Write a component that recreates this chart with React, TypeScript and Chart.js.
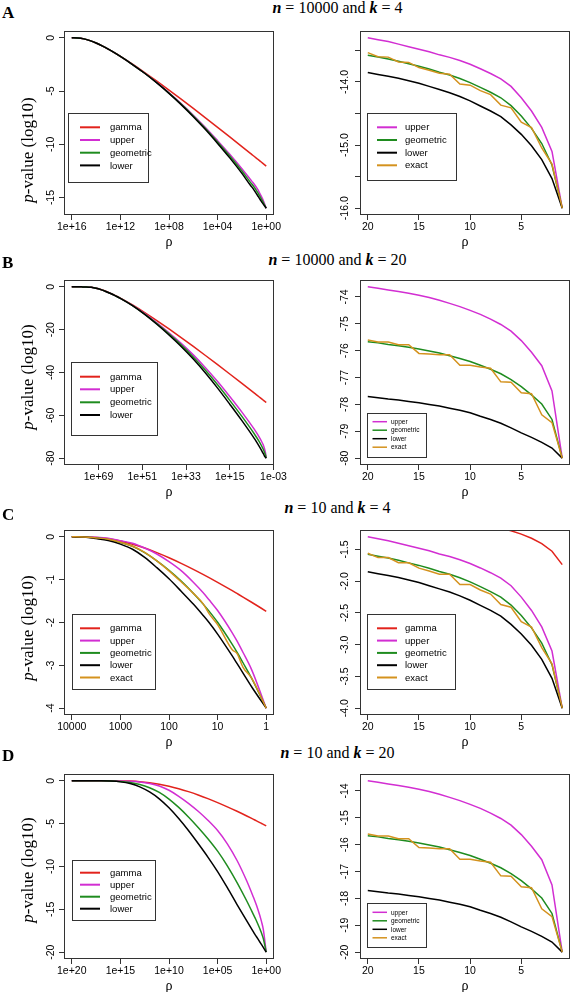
import React, { useEffect, useRef } from "react";
import { Chart, registerables } from "chart.js";

Chart.register(...registerables);

// ---------------- colours ----------------
const C_GAMMA = "#e2231c";
const C_UPPER = "#d22ed2";
const C_GEOM = "#1f8c1f";
const C_LOWER = "#000000";
const C_EXACT = "#d4921e";

// ---------------- shared rho axis (right panels) ----------------
const RHO = [20, 19, 18, 17, 16, 15, 14, 13, 12, 11, 10, 9, 8, 7, 6, 5, 4, 3, 2, 1];

// ---------------- A: n = 10000, k = 4 ----------------
const A_LOGRHO = [16, 15.5, 15, 14.5, 14, 13.5, 13, 12.5, 12, 11, 10, 9, 8, 7, 6, 5, 4, 3, 2, 1.301, 1.176, 1, 0.699, 0.602, 0.477, 0.301, 0];
const A_GAMMA = [0, -0.013, -0.098, -0.262, -0.488, -0.759, -1.062, -1.39, -1.738, -2.477, -3.26, -4.073, -4.91, -5.765, -6.634, -7.515, -8.406, -9.306, -10.212, -10.85, -10.965, -11.125, -11.401, -11.49, -11.605, -11.767, -12.043];
const A_UPPER = [0, -0.013, -0.098, -0.262, -0.488, -0.759, -1.062, -1.395, -1.748, -2.507, -3.33, -4.208, -5.16, -6.175, -7.264, -8.415, -9.656, -10.936, -12.292, -13.3, -13.48, -13.73, -14.24, -14.44, -14.72, -15.12, -16];
const A_GEOM = [0, -0.013, -0.098, -0.262, -0.488, -0.759, -1.062, -1.395, -1.748, -2.507, -3.33, -4.223, -5.19, -6.225, -7.334, -8.515, -9.786, -11.106, -12.512, -13.575, -13.75, -14.015, -14.535, -14.725, -14.975, -15.325, -16];
const A_LOWER = [0, -0.013, -0.098, -0.262, -0.488, -0.759, -1.062, -1.395, -1.748, -2.507, -3.33, -4.238, -5.22, -6.275, -7.404, -8.615, -9.916, -11.276, -12.732, -13.85, -14.02, -14.3, -14.83, -15.01, -15.23, -15.53, -16];

const AR_UPPER = [-13.3, -13.33, -13.36, -13.4, -13.44, -13.48, -13.52, -13.57, -13.61, -13.66, -13.72, -13.79, -13.865, -13.95, -14.07, -14.25, -14.46, -14.72, -15.1, -16];
const AR_GEOM = [-13.575, -13.605, -13.635, -13.67, -13.71, -13.75, -13.795, -13.845, -13.89, -13.945, -14.01, -14.085, -14.163, -14.25, -14.375, -14.54, -14.735, -14.975, -15.315, -16];
const AR_LOWER = [-13.85, -13.88, -13.91, -13.94, -13.98, -14.02, -14.07, -14.12, -14.17, -14.23, -14.3, -14.38, -14.46, -14.55, -14.68, -14.83, -15.01, -15.23, -15.53, -16];
const AR_EXACT = [-13.535, -13.599, -13.606, -13.682, -13.69, -13.772, -13.815, -13.863, -13.876, -14.032, -14.051, -14.137, -14.201, -14.367, -14.409, -14.638, -14.721, -15.046, -15.301, -16];

// ---------------- B: n = 10000, k = 20 ----------------
const B_LOGRHO = [80, 78, 76, 74, 72, 70, 68, 66, 64, 62, 60, 55, 50, 45, 40, 35, 30, 25, 20, 15, 10, 5, 4, 3, 2, 1.301, 1.176, 1, 0.699, 0.602, 0.477, 0.301, 0];
const B_GAMMA = [0, 0, 0, -0.03, -0.212, -0.627, -1.261, -2.076, -3.031, -4.101, -5.263, -8.472, -12.0, -15.75, -19.664, -23.703, -27.845, -32.067, -36.353, -40.7, -45.092, -49.526, -50.42, -51.31, -52.21, -52.83, -52.95, -53.1, -53.37, -53.46, -53.57, -53.73, -54.0];
const B_UPPER = [0, 0, -0.01, -0.05, -0.24, -0.66, -1.31, -2.15, -3.12, -4.2, -5.35, -8.67, -12.55, -16.85, -21.46, -26.38, -31.77, -37.75, -44.2, -51.2, -58.5, -66.35, -68.08, -69.93, -71.98, -73.63, -73.94, -74.5, -75.63, -76.06, -76.56, -77.5, -80];
const B_GEOM = [0, 0, -0.01, -0.05, -0.24, -0.66, -1.31, -2.15, -3.12, -4.2, -5.35, -8.72, -12.7, -17.15, -21.96, -27.1, -32.75, -39.0, -45.75, -53.0, -60.5, -68.5, -70.25, -72.1, -74.1, -75.67, -75.94, -76.41, -77.34, -77.64, -77.99, -78.56, -80];
const B_LOWER = [0, 0, -0.01, -0.05, -0.24, -0.66, -1.31, -2.15, -3.12, -4.2, -5.35, -8.77, -12.85, -17.45, -22.46, -27.82, -33.73, -40.25, -47.3, -54.8, -62.5, -70.65, -72.42, -74.27, -76.22, -77.71, -77.94, -78.31, -79.06, -79.23, -79.41, -79.63, -80];

const BR_UPPER = [-73.625, -73.675, -73.74, -73.8, -73.86, -73.94, -74.025, -74.125, -74.24, -74.36, -74.5, -74.65, -74.825, -75.025, -75.275, -75.625, -76.06, -76.56, -77.5, -80];
const BR_GEOM = [-75.67, -75.71, -75.77, -75.82, -75.875, -75.94, -76.01, -76.09, -76.19, -76.29, -76.405, -76.545, -76.69, -76.86, -77.075, -77.34, -77.645, -77.985, -78.56, -80];
const BR_LOWER = [-77.71, -77.75, -77.8, -77.84, -77.89, -77.94, -78.0, -78.06, -78.14, -78.22, -78.31, -78.44, -78.56, -78.7, -78.875, -79.06, -79.225, -79.41, -79.625, -80];
const BR_EXACT = [-75.599, -75.678, -75.679, -75.776, -75.776, -76.103, -76.126, -76.15, -76.151, -76.543, -76.547, -76.612, -76.652, -77.161, -77.173, -77.567, -77.6, -78.387, -78.678, -80];

// ---------------- C: n = 10, k = 4 ----------------
const C_LOGRHO = [4, 3.75, 3.5, 3.25, 3, 2.75, 2.5, 2.25, 2, 1.75, 1.5, 1.301, 1.176, 1, 0.699, 0.602, 0.477, 0.301, 0];
const C_GAMMA_L = [0, -0.001, -0.013, -0.045, -0.098, -0.171, -0.262, -0.369, -0.488, -0.619, -0.759, -0.876, -0.952, -1.062, -1.257, -1.322, -1.406, -1.527, -1.738];
const C_UPPER_L = [0, 0, -0.01, -0.035, -0.09, -0.15, -0.26, -0.4, -0.58, -0.79, -1.06, -1.3, -1.47, -1.72, -2.24, -2.43, -2.7, -3.1, -4];
const C_GEOM_L = [0, -0.003, -0.025, -0.06, -0.13, -0.22, -0.37, -0.56, -0.78, -1.03, -1.315, -1.565, -1.735, -1.995, -2.51, -2.69, -2.94, -3.3, -4];
const C_LOWER_L = [0, -0.006, -0.04, -0.085, -0.17, -0.29, -0.48, -0.72, -0.98, -1.27, -1.57, -1.83, -2.0, -2.27, -2.78, -2.955, -3.18, -3.5, -4];
const C_EXACT_L = [0, -0.003, -0.025, -0.058, -0.125, -0.22, -0.36, -0.56, -0.793, -1.05, -1.32, -1.559, -1.793, -2.051, -2.638, -2.721, -3.046, -3.301, -4];

const CR_GAMMA = [-0.876, -0.889, -0.904, -0.919, -0.935, -0.952, -0.971, -0.99, -1.012, -1.036, -1.062, -1.091, -1.124, -1.161, -1.205, -1.257, -1.322, -1.406, -1.527, -1.738];
const CR_UPPER = [-1.3, -1.33, -1.36, -1.4, -1.44, -1.48, -1.52, -1.57, -1.61, -1.66, -1.72, -1.79, -1.865, -1.95, -2.07, -2.25, -2.46, -2.72, -3.1, -4];
const CR_GEOM = [-1.575, -1.605, -1.635, -1.67, -1.71, -1.75, -1.795, -1.845, -1.89, -1.945, -2.01, -2.085, -2.163, -2.25, -2.375, -2.54, -2.735, -2.975, -3.315, -4];
const CR_LOWER = [-1.85, -1.88, -1.91, -1.94, -1.98, -2.02, -2.07, -2.12, -2.17, -2.23, -2.3, -2.38, -2.46, -2.55, -2.68, -2.83, -3.01, -3.23, -3.53, -4];
const CR_EXACT = [-1.559, -1.627, -1.627, -1.708, -1.708, -1.793, -1.839, -1.889, -1.889, -2.051, -2.051, -2.137, -2.201, -2.367, -2.409, -2.638, -2.721, -3.046, -3.301, -4];

// ---------------- D: n = 10, k = 20 ----------------
const D_LOGRHO = [20, 19, 18, 17, 16, 15, 14, 13, 12, 11, 10, 9, 8, 7, 6, 5, 4, 3, 2, 1.301, 1.176, 1, 0.699, 0.602, 0.477, 0.301, 0];
const D_GAMMA = [0, 0, 0, 0, 0, -0.007, -0.03, -0.092, -0.212, -0.39, -0.627, -0.92, -1.261, -1.647, -2.076, -2.537, -3.031, -3.553, -4.101, -4.499, -4.57, -4.67, -4.848, -4.906, -4.98, -5.085, -5.263];
const D_UPPER = [0, 0, 0, 0, -0.003, -0.015, -0.05, -0.13, -0.3, -0.6, -1.1, -1.8, -2.62, -3.55, -4.6, -5.8, -7.35, -9.3, -11.7, -13.63, -13.99, -14.53, -15.58, -15.95, -16.47, -17.35, -20];
const D_GEOM = [0, 0, 0, 0, -0.017, -0.068, -0.185, -0.415, -0.8, -1.35, -2.125, -3.1, -4.21, -5.435, -6.75, -8.2, -9.915, -11.875, -14.03, -15.645, -15.94, -16.365, -17.16, -17.43, -17.8, -18.4, -20];
const D_LOWER = [0, 0, 0, 0, -0.03, -0.12, -0.32, -0.7, -1.3, -2.1, -3.15, -4.4, -5.8, -7.32, -8.9, -10.6, -12.48, -14.45, -16.36, -17.66, -17.89, -18.2, -18.74, -18.91, -19.13, -19.45, -20];

const DR_UPPER = [-13.625, -13.675, -13.74, -13.8, -13.86, -13.94, -14.025, -14.125, -14.24, -14.36, -14.5, -14.65, -14.825, -15.025, -15.275, -15.625, -16.06, -16.56, -17.5, -20];
const DR_GEOM = [-15.67, -15.71, -15.77, -15.82, -15.875, -15.94, -16.01, -16.09, -16.19, -16.29, -16.405, -16.545, -16.69, -16.86, -17.075, -17.34, -17.645, -17.985, -18.56, -20];
const DR_LOWER = [-17.71, -17.75, -17.8, -17.84, -17.89, -17.94, -18.0, -18.06, -18.14, -18.22, -18.31, -18.44, -18.56, -18.7, -18.875, -19.06, -19.225, -19.41, -19.625, -20];
const DR_EXACT = [-15.6, -15.68, -15.68, -15.777, -15.777, -16.106, -16.128, -16.152, -16.152, -16.547, -16.547, -16.612, -16.652, -17.161, -17.173, -17.567, -17.6, -18.387, -18.678, -20];

// ---------------- tick values / labels ----------------
const A_XTICKS = [16, 12, 8, 4, 0];
const A_XLABELS = ["1e+16", "1e+12", "1e+08", "1e+04", "1e+00"];
const A_YTICKS = [0, -5, -10, -15];
const A_YLABELS = ["0", "-5", "-10", "-15"];
const AR_YTICKS = [-13.5, -14, -14.5, -15, -15.5, -16];
const AR_YLABELS = ["", "-14.0", "", "-15.0", "", "-16.0"];

const B_XTICKS = [69, 51, 33, 15, -3];
const B_XLABELS = ["1e+69", "1e+51", "1e+33", "1e+15", "1e-03"];
const B_YTICKS = [0, -20, -40, -60, -80];
const B_YLABELS = ["0", "-20", "-40", "-60", "-80"];
const BR_YTICKS = [-74, -75, -76, -77, -78, -79, -80];
const BR_YLABELS = ["-74", "-75", "-76", "-77", "-78", "-79", "-80"];

const C_XTICKS = [4, 3, 2, 1, 0];
const C_XLABELS = ["10000", "1000", "100", "10", "1"];
const C_YTICKS = [0, -1, -2, -3, -4];
const C_YLABELS = ["0", "-1", "-2", "-3", "-4"];
const CR_YTICKS = [-1.5, -2, -2.5, -3, -3.5, -4];
const CR_YLABELS = ["-1.5", "-2.0", "-2.5", "-3.0", "-3.5", "-4.0"];

const D_XTICKS = [20, 15, 10, 5, 0];
const D_XLABELS = ["1e+20", "1e+15", "1e+10", "1e+05", "1e+00"];
const D_YTICKS = [0, -5, -10, -15, -20];
const D_YLABELS = ["0", "-5", "-10", "-15", "-20"];
const DR_YTICKS = [-14, -15, -16, -17, -18, -19, -20];
const DR_YLABELS = ["-14", "-15", "-16", "-17", "-18", "-19", "-20"];

const R_XTICKS = [20, 15, 10, 5];
const R_XLABELS = ["20", "15", "10", "5"];

// ---------------- panel definitions ----------------
type Series = { label: string; color: string; x: number[]; y: number[] };
type Legend = { box: number[]; line: number[]; textX: number; rows: number[]; font: number; lw: number };
type Panel = {
  key: string;
  box: number[];
  xr: number[];
  xTicks: number[];
  xLabels: string[];
  yr: number[];
  yTicks: number[];
  yLabels: string[];
  series: Series[];
  smooth: boolean;
  legend: Legend;
  yLabOff: number;
  padRight: number;
};

const s = (label: string, color: string, x: number[], y: number[]): Series => ({ label, color, x, y });

const LEFT_BOX_X = [64, 274];
const RIGHT_BOX_X = [360, 570];

const PANELS: Panel[] = [
  {
    key: "AL", box: [LEFT_BOX_X[0], 31, LEFT_BOX_X[1], 215],
    xr: [-0.64, 16.64], xTicks: A_XTICKS, xLabels: A_XLABELS,
    yr: [-16.64, 0.64], yTicks: A_YTICKS, yLabels: A_YLABELS,
    series: [s("gamma", C_GAMMA, A_LOGRHO, A_GAMMA), s("upper", C_UPPER, A_LOGRHO, A_UPPER), s("geometric", C_GEOM, A_LOGRHO, A_GEOM), s("lower", C_LOWER, A_LOGRHO, A_LOWER)],
    smooth: true,
    legend: { box: [68, 113, 148, 182], line: [80, 100], textX: 110, rows: [127.3, 140, 152.7, 165.4], font: 9.5, lw: 2 },
    yLabOff: 14, padRight: 16,
  },
  {
    key: "AR", box: [RIGHT_BOX_X[0], 31, RIGHT_BOX_X[1], 215],
    xr: [0.24, 20.76], xTicks: R_XTICKS, xLabels: R_XLABELS,
    yr: [-16.108, -13.192], yTicks: AR_YTICKS, yLabels: AR_YLABELS,
    series: [s("upper", C_UPPER, RHO, AR_UPPER), s("geometric", C_GEOM, RHO, AR_GEOM), s("lower", C_LOWER, RHO, AR_LOWER), s("exact", C_EXACT, RHO, AR_EXACT)],
    smooth: false,
    legend: { box: [367, 113, 456, 180], line: [377, 397], textX: 405, rows: [127.3, 140, 152.7, 165.3], font: 9.5, lw: 2 },
    yLabOff: 16, padRight: 1,
  },
  {
    key: "BL", box: [LEFT_BOX_X[0], 280, LEFT_BOX_X[1], 465],
    xr: [-3.2, 83.2], xTicks: B_XTICKS, xLabels: B_XLABELS,
    yr: [-83.2, 3.2], yTicks: B_YTICKS, yLabels: B_YLABELS,
    series: [s("gamma", C_GAMMA, B_LOGRHO, B_GAMMA), s("upper", C_UPPER, B_LOGRHO, B_UPPER), s("geometric", C_GEOM, B_LOGRHO, B_GEOM), s("lower", C_LOWER, B_LOGRHO, B_LOWER)],
    smooth: true,
    legend: { box: [71, 362, 157, 435], line: [80, 100], textX: 110, rows: [376.7, 389.3, 402.3, 415], font: 9.5, lw: 2 },
    yLabOff: 14, padRight: 16,
  },
  {
    key: "BR", box: [RIGHT_BOX_X[0], 280, RIGHT_BOX_X[1], 465],
    xr: [0.24, 20.76], xTicks: R_XTICKS, xLabels: R_XLABELS,
    yr: [-80.255, -73.37], yTicks: BR_YTICKS, yLabels: BR_YLABELS,
    series: [s("upper", C_UPPER, RHO, BR_UPPER), s("geometric", C_GEOM, RHO, BR_GEOM), s("lower", C_LOWER, RHO, BR_LOWER), s("exact", C_EXACT, RHO, BR_EXACT)],
    smooth: false,
    legend: { box: [367, 413, 426, 457], line: [372.5, 387], textX: 391, rows: [421.7, 430.2, 438.7, 447.2], font: 6.5, lw: 1.5 },
    yLabOff: 16, padRight: 1,
  },
  {
    key: "CL", box: [LEFT_BOX_X[0], 530, LEFT_BOX_X[1], 715],
    xr: [-0.16, 4.16], xTicks: C_XTICKS, xLabels: C_XLABELS,
    yr: [-4.16, 0.16], yTicks: C_YTICKS, yLabels: C_YLABELS,
    series: [s("gamma", C_GAMMA, C_LOGRHO, C_GAMMA_L), s("upper", C_UPPER, C_LOGRHO, C_UPPER_L), s("geometric", C_GEOM, C_LOGRHO, C_GEOM_L), s("lower", C_LOWER, C_LOGRHO, C_LOWER_L), s("exact", C_EXACT, C_LOGRHO, C_EXACT_L)],
    smooth: true,
    legend: { box: [72, 614, 155, 689], line: [80, 100], textX: 110, rows: [628.3, 640.6, 652.9, 665.2, 677.5], font: 9.5, lw: 2 },
    yLabOff: 14, padRight: 16,
  },
  {
    key: "CR", box: [RIGHT_BOX_X[0], 530, RIGHT_BOX_X[1], 715],
    xr: [0.24, 20.76], xTicks: R_XTICKS, xLabels: R_XLABELS,
    yr: [-4.108, -1.192], yTicks: CR_YTICKS, yLabels: CR_YLABELS,
    series: [s("gamma", C_GAMMA, RHO, CR_GAMMA), s("upper", C_UPPER, RHO, CR_UPPER), s("geometric", C_GEOM, RHO, CR_GEOM), s("lower", C_LOWER, RHO, CR_LOWER), s("exact", C_EXACT, RHO, CR_EXACT)],
    smooth: false,
    legend: { box: [367, 614, 455, 689], line: [377, 397], textX: 405, rows: [628.3, 640.6, 652.9, 665.2, 677.5], font: 9.5, lw: 2 },
    yLabOff: 16, padRight: 1,
  },
  {
    key: "DL", box: [LEFT_BOX_X[0], 774, LEFT_BOX_X[1], 959],
    xr: [-0.8, 20.8], xTicks: D_XTICKS, xLabels: D_XLABELS,
    yr: [-20.8, 0.8], yTicks: D_YTICKS, yLabels: D_YLABELS,
    series: [s("gamma", C_GAMMA, D_LOGRHO, D_GAMMA), s("upper", C_UPPER, D_LOGRHO, D_UPPER), s("geometric", C_GEOM, D_LOGRHO, D_GEOM), s("lower", C_LOWER, D_LOGRHO, D_LOWER)],
    smooth: true,
    legend: { box: [72, 860, 155, 920], line: [80, 100], textX: 110, rows: [872.7, 884.7, 896.7, 908.7], font: 9.5, lw: 2 },
    yLabOff: 14, padRight: 16,
  },
  {
    key: "DR", box: [RIGHT_BOX_X[0], 774, RIGHT_BOX_X[1], 959],
    xr: [0.24, 20.76], xTicks: R_XTICKS, xLabels: R_XLABELS,
    yr: [-20.255, -13.37], yTicks: DR_YTICKS, yLabels: DR_YLABELS,
    series: [s("upper", C_UPPER, RHO, DR_UPPER), s("geometric", C_GEOM, RHO, DR_GEOM), s("lower", C_LOWER, RHO, DR_LOWER), s("exact", C_EXACT, RHO, DR_EXACT)],
    smooth: false,
    legend: { box: [367, 903, 426, 947], line: [372.5, 387], textX: 391, rows: [912.3, 920.8, 929.3, 937.8], font: 6.5, lw: 1.5 },
    yLabOff: 16, padRight: 1,
  },
];

const TITLES = [
  { n: "10000", k: "4", top: 0 },
  { n: "10000", k: "20", top: 251.5 },
  { n: "10", k: "4", top: 499.5 },
  { n: "10", k: "20", top: 744.5 },
];
const LETTERS = [
  { t: "A", top: 4 },
  { t: "B", top: 253.7 },
  { t: "C", top: 505.7 },
  { t: "D", top: 747.4 },
];
const YTITLE_CY = [150, 376.7, 628, 870];

const AX_W = 55;
const PAD_T = 6;
const AX_H = 20;
const SANS = '"Liberation Sans", Arial, Helvetica, sans-serif';
const SERIF = '"Liberation Serif", "Times New Roman", Times, serif';

function PanelChart({ p }: { p: Panel }) {
  const ref = useRef<HTMLCanvasElement | null>(null);
  const [bl, bt, br, bb] = p.box;
  const cl = bl - AX_W;
  const ct = bt - PAD_T;
  const cw = br - bl + AX_W + p.padRight;
  const ch = bb - bt + PAD_T + AX_H;

  useEffect(() => {
    const canvas = ref.current;
    if (!canvas) return;
    const n = p.series.length;
    const decor = {
      id: "rDecor",
      afterDraw(chart: any) {
        const ctx = chart.ctx;
        const ca = chart.chartArea;
        const ys = chart.scales.y;
        ctx.save();
        // rotated y tick labels (R style)
        ctx.fillStyle = "#000";
        ctx.font = `10.5px ${SANS}`;
        ctx.textAlign = "center";
        ctx.textBaseline = "alphabetic";
        p.yTicks.forEach((v, i) => {
          const lab = p.yLabels[i];
          if (!lab) return;
          const py = ys.getPixelForValue(v);
          ctx.save();
          ctx.translate(ca.left - p.yLabOff + 3.8, py);
          ctx.rotate(-Math.PI / 2);
          ctx.fillText(lab, 0, 0);
          ctx.restore();
        });
        // plot box
        ctx.strokeStyle = "#333";
        ctx.lineWidth = 1;
        ctx.strokeRect(Math.round(ca.left) + 0.5, Math.round(ca.top) + 0.5, Math.round(ca.right - ca.left) - 1, Math.round(ca.bottom - ca.top) - 1);
        // legend
        const lg = p.legend;
        const x0 = Math.round(lg.box[0] - cl) + 0.5;
        const y0 = Math.round(lg.box[1] - ct) + 0.5;
        const w = Math.round(lg.box[2] - lg.box[0]);
        const h = Math.round(lg.box[3] - lg.box[1]);
        ctx.strokeStyle = "#333";
        ctx.lineWidth = 1;
        ctx.strokeRect(x0, y0, w, h);
        ctx.font = `${lg.font}px ${SANS}`;
        ctx.textAlign = "left";
        ctx.textBaseline = "middle";
        chart.data.datasets.forEach((ds: any, i: number) => {
          const y = lg.rows[i] - ct;
          ctx.strokeStyle = ds.borderColor;
          ctx.lineWidth = lg.lw;
          ctx.beginPath();
          ctx.moveTo(lg.line[0] - cl, y);
          ctx.lineTo(lg.line[1] - cl, y);
          ctx.stroke();
          ctx.fillStyle = "#000";
          ctx.fillText(ds.label, lg.textX - cl, y + 0.5);
        });
        ctx.restore();
      },
    };

    const gridOpts = {
      display: true,
      drawOnChartArea: false,
      drawTicks: true,
      tickLength: 5,
      color: "#333",
      lineWidth: 1,
    };

    const chart = new Chart(canvas, {
      type: "line",
      data: {
        datasets: p.series.map((sr, i) => ({
          label: sr.label,
          data: sr.x.map((xv, j) => ({ x: xv, y: sr.y[j] })),
          borderColor: sr.color,
          backgroundColor: sr.color,
          borderWidth: 1.5,
          pointRadius: 0,
          fill: false,
          order: n - 1 - i,
          tension: 0,
          cubicInterpolationMode: p.smooth ? "monotone" : "default",
        })),
      },
      options: {
        responsive: false,
        animation: false,
        devicePixelRatio: 1,
        events: [],
        layout: { padding: { left: 0, top: PAD_T, right: p.padRight, bottom: 0 } },
        plugins: { legend: { display: false }, tooltip: { enabled: false }, title: { display: false } },
        scales: {
          x: {
            type: "linear",
            reverse: true,
            min: p.xr[0],
            max: p.xr[1],
            border: { display: false },
            grid: gridOpts,
            afterBuildTicks: (sc: any) => {
              sc.ticks = p.xTicks.map((v) => ({ value: v }));
            },
            afterFit: (sc: any) => {
              sc.height = AX_H;
              sc.paddingLeft = 0;
              sc.paddingRight = 0;
            },
            ticks: {
              autoSkip: false,
              maxRotation: 0,
              minRotation: 0,
              padding: 1,
              color: "#000",
              font: { family: SANS, size: 10.5 },
              callback: (_v: any, i: number) => p.xLabels[i],
            },
          },
          y: {
            type: "linear",
            min: p.yr[0],
            max: p.yr[1],
            border: { display: false },
            grid: gridOpts,
            afterBuildTicks: (sc: any) => {
              sc.ticks = p.yTicks.map((v) => ({ value: v }));
            },
            afterFit: (sc: any) => {
              sc.width = AX_W;
              sc.paddingTop = 0;
              sc.paddingBottom = 0;
            },
            ticks: { display: false },
          },
        },
      } as any,
      plugins: [decor],
    });
    return () => chart.destroy();
  }, []);

  return (
    <canvas
      ref={ref}
      width={cw}
      height={ch}
      style={{ position: "absolute", left: cl, top: ct, width: cw, height: ch }}
    />
  );
}

export default function App() {
  const rowBottoms = [215, 465, 715, 959];
  return (
    <div
      style={{
        position: "absolute",
        left: 0,
        top: 0,
        width: 571,
        height: 992,
        overflow: "hidden",
        background: "#fff",
        color: "#000",
        fontFamily: SERIF,
      }}
    >
      {PANELS.map((p) => (
        <PanelChart key={p.key} p={p} />
      ))}
      {TITLES.map((t, i) => (
        <div
          key={"t" + i}
          style={{ position: "absolute", left: 187.5, width: 300, top: t.top, textAlign: "center", fontSize: 16, lineHeight: "16px", whiteSpace: "nowrap" }}
        >
          <b><i>n</i></b> = {t.n} and <b><i>k</i></b> = {t.k}
        </div>
      ))}
      {LETTERS.map((l, i) => (
        <div
          key={"l" + i}
          style={{ position: "absolute", left: 2, top: l.top, fontSize: 17, lineHeight: "17px", fontWeight: "bold" }}
        >
          {l.t}
        </div>
      ))}
      {YTITLE_CY.map((cy, i) => (
        <div
          key={"y" + i}
          style={{
            position: "absolute",
            left: 27,
            top: cy,
            transform: "translate(-50%, -50%) rotate(-90deg)",
            fontSize: 17,
            lineHeight: "17px",
            whiteSpace: "nowrap",
          }}
        >
          <i>p</i>-value (log10)
        </div>
      ))}
      {rowBottoms.map((b, i) =>
        [169, 465].map((cx, j) => (
          <div
            key={"r" + i + "_" + j}
            style={{
              position: "absolute",
              left: cx,
              top: b + 26.5,
              transform: "translate(-50%, -50%)",
              fontSize: 14,
              lineHeight: "14px",
              whiteSpace: "nowrap",
            }}
          >
            ρ
          </div>
        ))
      )}
    </div>
  );
}
